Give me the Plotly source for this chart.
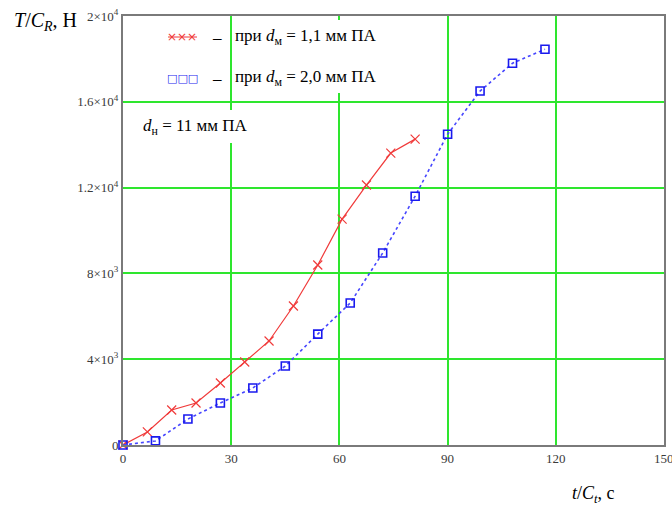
import plotly.graph_objects as go

# Data
x_red = [0, 6.75, 13.5, 20.25, 27, 33.75, 40.5, 47.25, 54, 60.75, 67.5, 74.25, 81]
y_red = [0, 610, 1630, 1960, 2890, 3870, 4850, 6480, 8390, 10530, 12120, 13610, 14260]

x_blue = [0, 9, 18, 27, 36, 45, 54, 63, 72, 81, 90, 99, 108, 117]
y_blue = [0, 190, 1210, 1960, 2660, 3680, 5170, 6620, 8950, 11600, 14490, 16500, 17800, 18450]

x_ticks = [0, 30, 60, 90, 120, 150]
y_ticks = [0, 4000, 8000, 12000, 16000, 20000]
y_ticktext = ["0", "4×10<sup>3</sup>", "8×10<sup>3</sup>", "1.2×10<sup>4</sup>",
              "1.6×10<sup>4</sup>", "2×10<sup>4</sup>"]

FONT = "Liberation Serif"
GRID = "#2ee62e"
RED = "#f03a3a"
BLUE = "#1a1aee"
TICKCOL = "#3a3a3a"

fig = go.Figure()
fig.add_trace(go.Scatter(
    x=x_red, y=y_red, mode="lines+markers",
    line=dict(color=RED, width=1.2),
    marker=dict(symbol="x-thin", size=9, line=dict(color=RED, width=1.2)),
    showlegend=False, cliponaxis=False))
fig.add_trace(go.Scatter(
    x=x_blue, y=y_blue, mode="lines+markers",
    line=dict(color="#4646ff", width=1.6, dash="dot"),
    marker=dict(symbol="square-open", size=8, color=BLUE,
                line=dict(color=BLUE, width=1.6)),
    showlegend=False, cliponaxis=False))

W, H = 672, 506
L, T, R, B = 123, 16, 8, 61
pw, ph = W - L - R, H - T - B

def px(xp):
    return (xp - L) / pw

def py(yp):
    return (H - B - yp) / ph

fig.update_layout(
    width=W, height=H,
    margin=dict(l=L, r=R, t=T, b=B, autoexpand=False),
    paper_bgcolor="white", plot_bgcolor="white",
    font=dict(family=FONT, color="#333333"),
    xaxis=dict(range=[0, 150], tickvals=x_ticks, ticks="", showgrid=True,
               automargin=False,
               gridcolor=GRID, gridwidth=1.5, zeroline=False,
               showline=True, linecolor="#7a7a7a", linewidth=2, mirror=True,
               tickfont=dict(family=FONT, size=13, color=TICKCOL)),
    yaxis=dict(range=[0, 20000], tickvals=y_ticks, ticktext=y_ticktext, ticks="",
               automargin=False,
               showgrid=True, gridcolor=GRID, gridwidth=1.5, zeroline=False,
               showline=True, linecolor="#7a7a7a", linewidth=2, mirror=True,
               tickfont=dict(family=FONT, size=13, color=TICKCOL)),
)

# white boxes that hide grid behind the text blocks
fig.add_shape(type="rect", xref="paper", yref="paper",
              x0=px(233), x1=px(392), y0=py(93), y1=py(20),
              fillcolor="white", line=dict(width=0), layer="above")
fig.add_shape(type="rect", xref="paper", yref="paper",
              x0=px(135), x1=px(262), y0=py(143), y1=py(110),
              fillcolor="white", line=dict(width=0), layer="above")
# line through the red legend sample
fig.add_shape(type="line", xref="paper", yref="paper",
              x0=px(168), x1=px(197), y0=py(37), y1=py(37),
              line=dict(color=RED, width=1), layer="above")

ann = []
# last x tick label, partly cut by the right edge as in the reference
ann.append(dict(x=x_ticks[-1], y=py(458), xref="x", yref="paper", xanchor="center",
                yanchor="middle", showarrow=False, text=str(x_ticks[-1]),
                font=dict(family=FONT, size=13, color=TICKCOL)))
ann.append(dict(x=px(12), y=py(22), xref="paper", yref="paper", xanchor="left",
                yanchor="middle", showarrow=False,
                text="<i>T</i>/<i>C<sub>R</sub></i>, Н",
                font=dict(family=FONT, size=20, color="black")))
ann.append(dict(x=px(570), y=py(494), xref="paper", yref="paper", xanchor="left",
                yanchor="middle", showarrow=False,
                text="<i>t</i>/<i>C<sub>t</sub></i>, с",
                font=dict(family=FONT, size=18, color="black")))
# legend-like lines
ann.append(dict(x=px(182), y=py(37), xref="paper", yref="paper", xanchor="center",
                yanchor="middle", showarrow=False, text="×××",
                font=dict(family="DejaVu Sans", size=12, color=RED)))
ann.append(dict(x=px(182), y=py(78), xref="paper", yref="paper", xanchor="center",
                yanchor="middle", showarrow=False, text="□□□",
                font=dict(family="DejaVu Sans", size=11, color=BLUE)))
for yy in (37, 78):
    ann.append(dict(x=px(217), y=py(yy), xref="paper", yref="paper", xanchor="center",
                    yanchor="middle", showarrow=False, text="–",
                    font=dict(family=FONT, size=17, color="black")))
ann.append(dict(x=px(233), y=py(37), xref="paper", yref="paper", xanchor="left",
                yanchor="middle", showarrow=False,
                text="при <i>d</i><sub>м</sub> = 1,1 мм ПА",
                font=dict(family=FONT, size=17, color="black")))
ann.append(dict(x=px(233), y=py(78), xref="paper", yref="paper", xanchor="left",
                yanchor="middle", showarrow=False,
                text="при <i>d</i><sub>м</sub> = 2,0 мм ПА",
                font=dict(family=FONT, size=17, color="black")))
ann.append(dict(x=px(141), y=py(127), xref="paper", yref="paper", xanchor="left",
                yanchor="middle", showarrow=False,
                text="<i>d</i><sub>н</sub> = 11 мм ПА",
                font=dict(family=FONT, size=17, color="black")))
fig.update_layout(annotations=ann)

fig.write_html("out.html",
               config={"displayModeBar": False},
               post_script="document.body.style.margin='0';"
                           "document.documentElement.style.overflow='hidden';")
